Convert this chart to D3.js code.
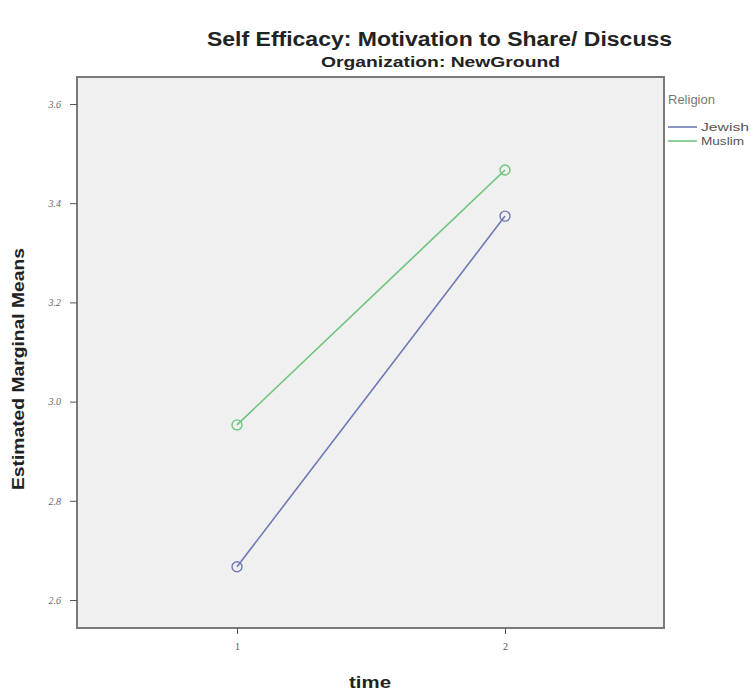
<!DOCTYPE html>
<html>
<head>
<meta charset="utf-8">
<script src="https://cdn.jsdelivr.net/npm/d3@7"></script>
<style>
  html, body { margin: 0; padding: 0; background: #fff; }
  svg { display: block; }
</style>
</head>
<body>
<svg id="chart" width="751" height="692"></svg>
<script>
// Estimated marginal means by time for each religion group
const times = [1, 2];
const religions = ["Jewish", "Muslim"];
const jewishMeans = [2.667, 3.374];
const muslimMeans = [2.953, 3.467];
const yTicks = [2.6, 2.8, 3.0, 3.2, 3.4, 3.6];
const seriesColors = ["#6f78b4", "#6cc47c"];
const legendWidths = [48, 43];

const series = [
  { name: religions[0], values: jewishMeans, color: seriesColors[0], w: legendWidths[0] },
  { name: religions[1], values: muslimMeans, color: seriesColors[1], w: legendWidths[1] }
];

const svg = d3.select("#chart");
const frame = { left: 77, top: 77, right: 664, bottom: 628 };

const x = d3.scalePoint().domain(times).range([237, 505]);
const y = d3.scaleLinear().domain([2.6, 3.6]).range([600, 104]);

const sans = "'Liberation Sans', Arial, sans-serif";

// Titles
svg.append("text")
  .attr("x", 207).attr("y", 46)
  .attr("font-family", sans)
  .attr("font-weight", "bold")
  .attr("font-size", 20)
  .attr("textLength", 465)
  .attr("lengthAdjust", "spacingAndGlyphs")
  .attr("fill", "#222")
  .text("Self Efficacy: Motivation to Share/ Discuss");

svg.append("text")
  .attr("x", 321).attr("y", 67)
  .attr("font-family", sans)
  .attr("font-weight", "bold")
  .attr("font-size", 14)
  .attr("textLength", 239)
  .attr("lengthAdjust", "spacingAndGlyphs")
  .attr("fill", "#222")
  .text("Organization: NewGround");

// Plot area
svg.append("rect")
  .attr("x", frame.left).attr("y", frame.top)
  .attr("width", frame.right - frame.left)
  .attr("height", frame.bottom - frame.top)
  .attr("fill", "#f0f0f0")
  .attr("stroke", "#7a7a7a")
  .attr("stroke-width", 2);

// Y axis
const yAxis = svg.append("g")
  .attr("transform", `translate(${frame.left},0)`)
  .call(d3.axisLeft(y).tickValues(yTicks).tickFormat(d3.format(".1f")).tickSize(7).tickPadding(9));
yAxis.select(".domain").remove();
yAxis.selectAll("line").attr("stroke", "#555");
yAxis.selectAll("text")
  .attr("font-family", "'Liberation Serif', 'DejaVu Serif', serif")
  .attr("font-style", "italic")
  .attr("font-size", 10)
  .attr("fill", "#666");

// X axis
const xAxis = svg.append("g")
  .attr("transform", `translate(0,${frame.bottom})`)
  .call(d3.axisBottom(x).tickSize(6).tickPadding(9));
xAxis.select(".domain").remove();
xAxis.selectAll("line").attr("stroke", "#555");
xAxis.selectAll("text")
  .attr("font-family", "'Liberation Serif', 'DejaVu Serif', serif")
  .attr("font-size", 10)
  .attr("fill", "#555");

// Axis titles
svg.append("text")
  .attr("transform", "translate(24,369) rotate(-90)")
  .attr("text-anchor", "middle")
  .attr("font-family", sans)
  .attr("font-weight", "bold")
  .attr("font-size", 16)
  .attr("textLength", 242)
  .attr("lengthAdjust", "spacingAndGlyphs")
  .attr("fill", "#222")
  .text("Estimated Marginal Means");

svg.append("text")
  .attr("x", 349).attr("y", 688)
  .attr("font-family", sans)
  .attr("font-weight", "bold")
  .attr("font-size", 17)
  .attr("textLength", 42)
  .attr("lengthAdjust", "spacingAndGlyphs")
  .attr("fill", "#222")
  .text("time");

// Lines and markers
const line = d3.line().x((d, i) => x(times[i])).y(d => y(d));
const groups = svg.selectAll(".series").data(series).join("g").attr("class", "series");
groups.append("path")
  .attr("d", d => line(d.values))
  .attr("fill", "none")
  .attr("stroke", d => d.color)
  .attr("stroke-width", 1.6);
groups.selectAll("circle")
  .data(d => d.values.map((v, i) => ({ v, t: times[i], color: d.color })))
  .join("circle")
  .attr("cx", d => x(d.t))
  .attr("cy", d => y(d.v))
  .attr("r", 5)
  .attr("fill", "none")
  .attr("stroke", d => d.color)
  .attr("stroke-width", 1.4);

// Legend
const legend = svg.append("g").attr("transform", "translate(668,0)");
legend.append("text")
  .attr("x", 0).attr("y", 104)
  .attr("font-family", sans)
  .attr("font-size", 13)
  .attr("fill", "#777")
  .text("Religion");
const items = legend.selectAll(".item").data(series).join("g")
  .attr("transform", (d, i) => `translate(0,${127 + i * 14})`);
items.append("line")
  .attr("x1", 0).attr("x2", 29)
  .attr("stroke", d => d.color)
  .attr("stroke-width", 1.6);
items.append("text")
  .attr("x", 33).attr("y", 4)
  .attr("font-family", sans)
  .attr("font-size", 11)
  .attr("textLength", d => d.w)
  .attr("lengthAdjust", "spacingAndGlyphs")
  .attr("fill", "#555")
  .text(d => d.name);
</script>
</body>
</html>
